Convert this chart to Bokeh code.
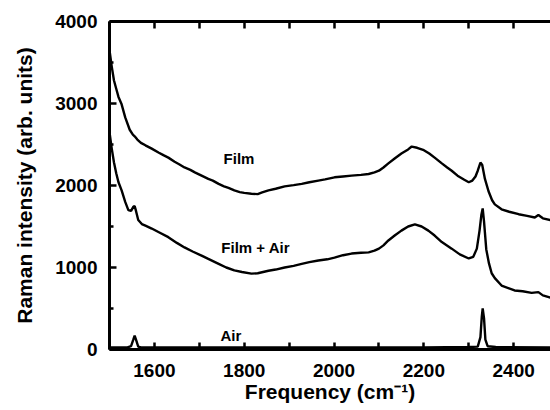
from bokeh.plotting import figure
from bokeh.models import LinearAxis, FixedTicker, Range1d, CustomJSTickFormatter
from bokeh.core.properties import value
from bokeh.embed import file_html
from bokeh.resources import INLINE

# ---- data ----
film_x = [1500, 1505, 1510, 1515, 1520, 1527, 1535, 1545, 1552, 1556, 1562, 1570, 1580, 1594,
          1610, 1620, 1631, 1645, 1655, 1667, 1680, 1690, 1705, 1720, 1730, 1743, 1755, 1765,
          1778, 1790, 1800, 1816, 1830, 1840, 1854, 1870, 1890, 1910, 1928, 1945, 1965, 1980,
          2001, 2020, 2039, 2060, 2077, 2090, 2100, 2110, 2121, 2135, 2150, 2165, 2173, 2185,
          2200, 2212, 2224, 2240, 2252, 2262, 2275, 2290, 2300, 2308, 2315, 2320, 2326, 2330,
          2336, 2344, 2352, 2358, 2373, 2390, 2411, 2430, 2447, 2455, 2465, 2484]
film_y = [3650, 3450, 3280, 3180, 3080, 2990, 2830, 2680, 2620, 2600, 2560, 2520, 2490, 2450,
          2400, 2370, 2340, 2290, 2260, 2220, 2190, 2160, 2120, 2080, 2060, 2020, 1990, 1970,
          1940, 1920, 1910, 1900, 1895, 1915, 1940, 1960, 1990, 2005, 2020, 2040, 2060, 2075,
          2100, 2110, 2120, 2130, 2140, 2160, 2180, 2220, 2270, 2330, 2390, 2440, 2475, 2460,
          2430, 2390, 2340, 2270, 2220, 2180, 2120, 2070, 2040, 2060, 2110, 2180, 2280, 2250,
          2080, 1930, 1820, 1770, 1710, 1680, 1650, 1630, 1610, 1640, 1600, 1575]

mix_x = [1500, 1505, 1510, 1515, 1520, 1527, 1535, 1542, 1548, 1553, 1556, 1559, 1564, 1572,
         1580, 1594, 1610, 1631, 1650, 1667, 1685, 1705, 1720, 1743, 1760, 1778, 1795, 1816,
         1830, 1854, 1870, 1890, 1910, 1928, 1945, 1965, 1985, 2001, 2020, 2039, 2060, 2077,
         2090, 2100, 2110, 2121, 2135, 2150, 2165, 2180, 2195, 2210, 2224, 2240, 2262, 2280,
         2300, 2310, 2318, 2324, 2328, 2331, 2334, 2339, 2345, 2351, 2358, 2373, 2402, 2420,
         2440, 2455, 2465, 2484]
mix_y = [2650, 2450, 2280, 2150, 2040, 1940, 1800, 1700, 1690, 1740, 1750, 1690, 1580, 1530,
         1510, 1475, 1430, 1370, 1300, 1245, 1195, 1145, 1105, 1045, 1000, 965, 945, 925,
         930, 960, 975, 1000, 1020, 1045, 1065, 1085, 1100, 1120, 1150, 1170, 1180, 1185,
         1205, 1230, 1270, 1330, 1390, 1450, 1500, 1525, 1500, 1450, 1390, 1310, 1230, 1160,
         1110, 1130, 1230, 1450, 1640, 1720, 1560, 1220, 1050, 930, 870, 780, 720, 710,
         690, 700, 660, 630]

air_x = [1500, 1540, 1548, 1553, 1556, 1559, 1564, 1570, 1700, 1800, 2000, 2200, 2300, 2320,
         2326, 2329, 2331, 2334, 2337, 2342, 2360, 2484]
air_y = [25, 25, 40, 120, 170, 120, 35, 25, 25, 25, 25, 25, 30, 35,
         150, 400, 500, 380, 120, 40, 30, 25]

label_text = ["Film", "Film + Air", "Air"]
label_x = [1754, 1749, 1747]
label_y = [2335, 1250, 165]

x_major = [1600, 1800, 2000, 2200, 2400]
x_minor = [1500, 1700, 1900, 2100, 2300, 2500]
y_major = [0, 1000, 2000, 3000, 4000]
y_minor = [500, 1500, 2500, 3500]

FONT = "Liberation Sans"

p = figure(width=550, height=410, output_backend="svg", toolbar_location=None,
           x_range=Range1d(1500, 2482), y_range=Range1d(0, 4000),
           x_axis_type=None, y_axis_type=None,
           min_border_left=109, min_border_right=0, min_border_top=21, min_border_bottom=61)
p.outline_line_color = None
p.xgrid.visible = False
p.ygrid.visible = False
p.background_fill_color = "white"
p.border_fill_color = "white"

for xs, ys in [(film_x, film_y), (mix_x, mix_y), (air_x, air_y)]:
    p.line(xs, ys, line_color="black", line_width=2.4)

p.text(x=label_x, y=label_y, text=label_text, text_font=value(FONT), text_font_style="bold",
       text_font_size="15px", text_align="left", text_baseline="alphabetic", text_color="black")


def style(ax, major, minor):
    ax.ticker = FixedTicker(ticks=major, minor_ticks=minor)
    ax.axis_line_width = 3
    ax.axis_line_color = "black"
    ax.major_tick_in = 7
    ax.major_tick_out = 0
    ax.major_tick_line_width = 2.5
    ax.minor_tick_out = 0
    ax.minor_tick_line_width = 2.5
    ax.major_label_text_font = FONT
    ax.major_label_text_font_style = "bold"
    ax.major_label_text_font_size = "19px"
    ax.major_label_text_color = "black"
    ax.axis_label_text_font = FONT
    ax.axis_label_text_font_style = "bold"
    ax.axis_label_text_font_size = "21px"
    ax.axis_label_text_color = "black"


left = LinearAxis(axis_label="Raman intensity (arb. units)")
style(left, y_major, y_minor)
left.minor_tick_in = 4
left.major_label_standoff = 12
left.axis_label_standoff = 16
p.add_layout(left, "left")

below = LinearAxis(axis_label="Frequency (cm\u207b\u00b9)")
style(below, x_major, x_minor)
below.minor_tick_in = 7
below.major_label_standoff = 14
below.axis_label_standoff = 0
p.add_layout(below, "below")

above = LinearAxis()
style(above, x_major, x_minor)
above.minor_tick_in = 7
above.formatter = CustomJSTickFormatter(code="return ''")
above.major_label_text_font_size = "8px"
above.major_label_standoff = 0
p.add_layout(above, "above")

open("out.html", "w").write(file_html(p, INLINE))
